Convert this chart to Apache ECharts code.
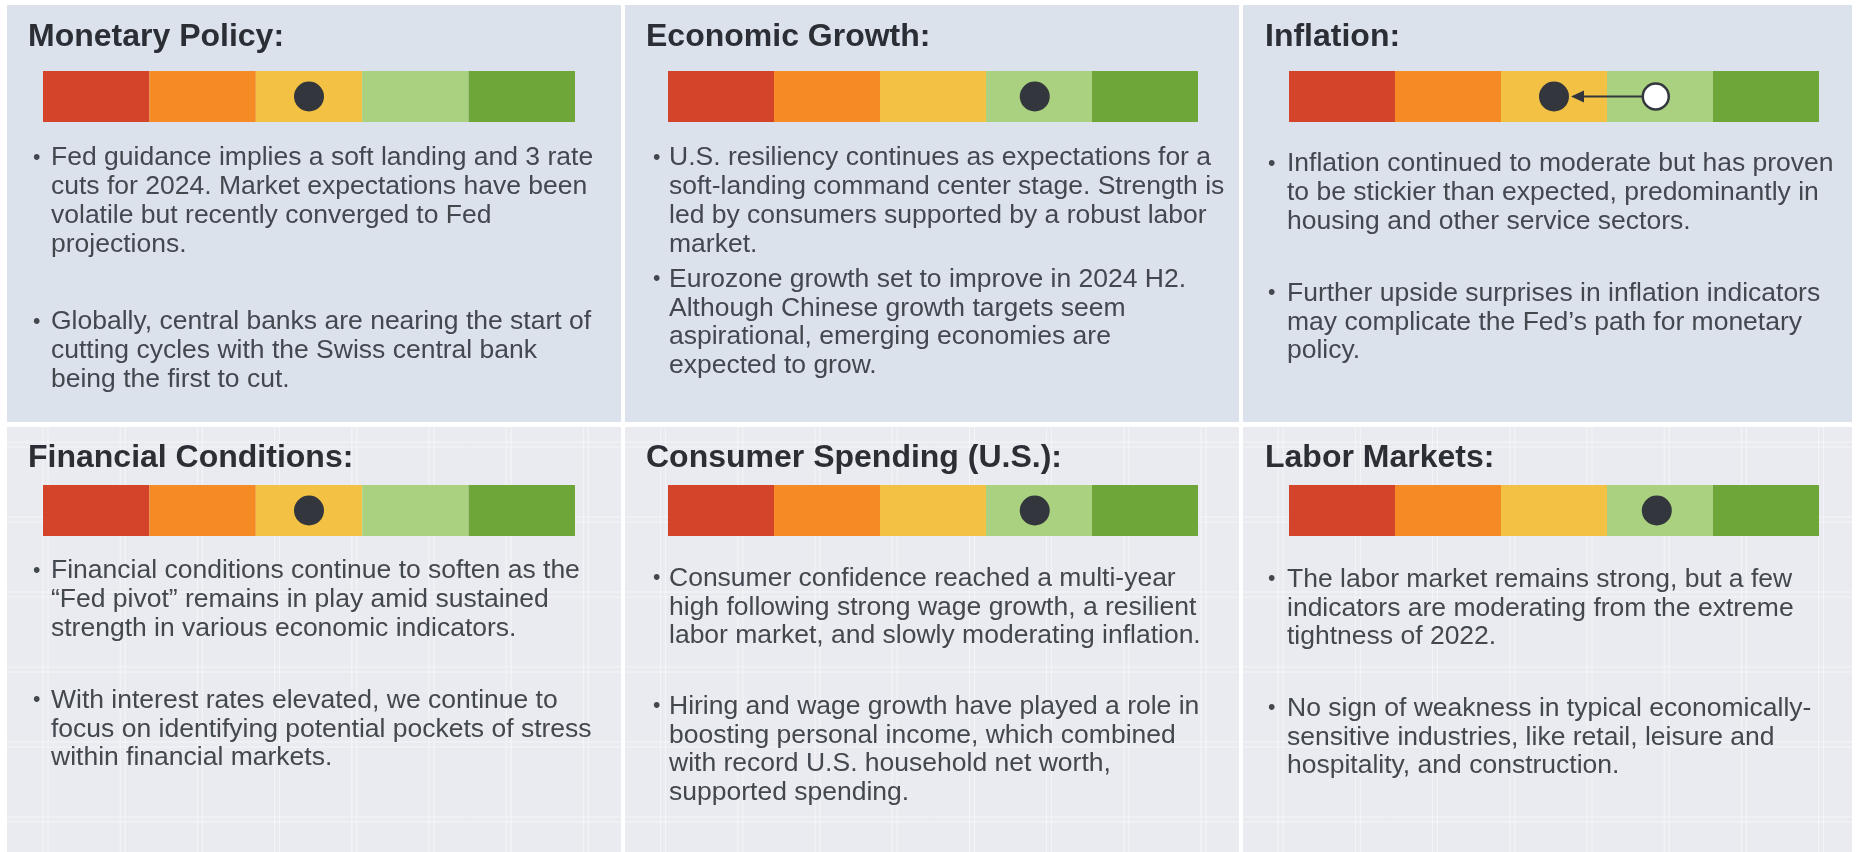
<!DOCTYPE html>
<html><head><meta charset="utf-8">
<script src="https://cdn.jsdelivr.net/npm/echarts@6/dist/echarts.min.js"></script>
<style>html,body{margin:0;padding:0;background:#ffffff}#c{width:1856px;height:852px}</style>
</head><body><div id="c"></div>
<script>
// ---------- DATA ----------
const panelTitles = ['Monetary Policy:', 'Economic Growth:', 'Inflation:', 'Financial Conditions:', 'Consumer Spending (U.S.):', 'Labor Markets:'];
const currentScore = [2.5, 3.46, 2.5, 2.5, 3.46, 3.47];
const previousScore = [null, null, 3.46, null, null, null];
const bandStarts = [0, 1, 2, 3, 4];
const bandEnds = [1, 2, 3, 4, 5];
const bulletsMonetary = [
  ['Fed guidance implies a soft landing and 3 rate', 'cuts for 2024. Market expectations have been', 'volatile but recently converged to Fed', 'projections.'],
  ['Globally, central banks are nearing the start of', 'cutting cycles with the Swiss central bank', 'being the first to cut.']
];
const bulletsGrowth = [
  ['U.S. resiliency continues as expectations for a', 'soft-landing command center stage. Strength is', 'led by consumers supported by a robust labor', 'market.'],
  ['Eurozone growth set to improve in 2024 H2.', 'Although Chinese growth targets seem', 'aspirational, emerging economies are', 'expected to grow.']
];
const bulletsInflation = [
  ['Inflation continued to moderate but has proven', 'to be stickier than expected, predominantly in', 'housing and other service sectors.'],
  ['Further upside surprises in inflation indicators', 'may complicate the Fed\u2019s path for monetary', 'policy.']
];
const bulletsFinancial = [
  ['Financial conditions continue to soften as the', '\u201CFed pivot\u201D remains in play amid sustained', 'strength in various economic indicators.'],
  ['With interest rates elevated, we continue to', 'focus on identifying potential pockets of stress', 'within financial markets.']
];
const bulletsConsumer = [
  ['Consumer confidence reached a multi-year', 'high following strong wage growth, a resilient', 'labor market, and slowly moderating inflation.'],
  ['Hiring and wage growth have played a role in', 'boosting personal income, which combined', 'with record U.S. household net worth,', 'supported spending.']
];
const bulletsLabor = [
  ['The labor market remains strong, but a few', 'indicators are moderating from the extreme', 'tightness of 2022.'],
  ['No sign of weakness in typical economically-', 'sensitive industries, like retail, leisure and', 'hospitality, and construction.']
];
const panelBullets = [bulletsMonetary, bulletsGrowth, bulletsInflation, bulletsFinancial, bulletsConsumer, bulletsLabor];

// ---------- STYLE / LAYOUT ----------
const bandColors = ['#d4442a', '#f68a25', '#f3c143', '#a9d17f', '#6fa639'];
const dotColor = '#33373d';
const titleColor = '#2b2e34';
const textColor = '#43474e';
const FONT = '"Liberation Sans", Arial, Helvetica, sans-serif';
const TITLE_SIZE = 32, TEXT_SIZE = 26.5, LH = 28.8;
const cols = [
  {x0: 7, x1: 621, title: 28, bullet: 33, text: 51, gx: 43, gw: 532},
  {x0: 625, x1: 1239, title: 646, bullet: 653, text: 669, gx: 668, gw: 530},
  {x0: 1243, x1: 1852, title: 1265, bullet: 1268, text: 1287, gx: 1289, gw: 530}
];
const rows = [
  {y0: 5, y1: 422, titleY: 37.5, gy: 71, gh: 51},
  {y0: 427, y1: 852, titleY: 458.5, gy: 485, gh: 51}
];
// first-line centre of each bullet, per panel
const bulletY = [[158, 322], [158, 279.5], [164, 293.5], [571, 700.5], [578.5, 706.5], [579.5, 708.5]];

// ---------- BUILD ----------
const grids = [], xAxes = [], yAxes = [], series = [], graphics = [];

// panel backgrounds
cols.forEach((c, ci) => rows.forEach((r, ri) => {
  graphics.push({type: 'rect', z: -10, silent: true,
    shape: {x: c.x0, y: r.y0, width: c.x1 - c.x0, height: r.y1 - r.y0},
    style: {fill: ri === 0 ? '#dce2ec' : '#e9ebf0'}});
}));
// faint plaid texture in bottom row
for (let x = 43; x < 1852; x += 77.2) {
  [0, 5].forEach(d => graphics.push({type: 'line', z: -9, silent: true,
    shape: {x1: x + d, y1: 427, x2: x + d, y2: 852}, style: {stroke: '#ffffff', lineWidth: 1, opacity: 0.5}}));
}
for (let y = 442; y < 852; y += 75) {
  [0, 5].forEach(d => graphics.push({type: 'line', z: -9, silent: true,
    shape: {x1: 7, y1: y + d, x2: 1852, y2: y + d}, style: {stroke: '#ffffff', lineWidth: 1, opacity: 0.5}}));
}
// re-draw separators over texture
cols.slice(0, 2).forEach(c => graphics.push({type: 'rect', z: -8, silent: true,
  shape: {x: c.x1, y: 427, width: 4, height: 425}, style: {fill: '#ffffff'}}));

panelTitles.forEach((title, i) => {
  const c = cols[i % 3], r = rows[Math.floor(i / 3)];
  grids.push({left: c.gx, top: r.gy, width: c.gw, height: r.gh, containLabel: false});
  xAxes.push({gridIndex: i, type: 'value', min: 0, max: 5, show: false});
  yAxes.push({gridIndex: i, type: 'category', data: ['score'], show: false});

  // colour bands
  series.push({
    type: 'custom', xAxisIndex: i, yAxisIndex: i, silent: true, z: 1,
    data: bandStarts.map((s, k) => [s, bandEnds[k], 0, k]),
    encode: {x: [0, 1], y: 2},
    renderItem: (params, api) => {
      const a = api.coord([api.value(0), 0]);
      const b = api.coord([api.value(1), 0]);
      const h = api.size([0, 1])[1];
      return {type: 'rect', shape: {x: a[0], y: a[1] - h / 2, width: b[0] - a[0], height: h},
        style: {fill: bandColors[api.value(3)]}};
    }
  });

  // trend arrow from previous to current
  if (previousScore[i] !== null) {
    series.push({
      type: 'custom', xAxisIndex: i, yAxisIndex: i, silent: true, z: 3,
      data: [[previousScore[i], currentScore[i], 0]],
      encode: {x: [0, 1], y: 2},
      renderItem: (params, api) => {
        const p = api.coord([api.value(0), 0]);
        const q = api.coord([api.value(1), 0]);
        const dir = q[0] < p[0] ? -1 : 1;
        const rDot = 15, rOpen = 13;
        const tipX = q[0] - dir * (rDot + 2);
        const baseX = tipX - dir * 13;
        return {type: 'group', children: [
          {type: 'line', shape: {x1: p[0] + dir * rOpen, y1: p[1], x2: baseX, y2: q[1]},
            style: {stroke: dotColor, lineWidth: 1.8}},
          {type: 'polygon', shape: {points: [[tipX, q[1]], [baseX, q[1] - 6], [baseX, q[1] + 6]]},
            style: {fill: dotColor}},
          {type: 'circle', shape: {cx: p[0], cy: p[1], r: rOpen},
            style: {fill: '#ffffff', stroke: dotColor, lineWidth: 2.5}}
        ]};
      }
    });
  }

  // current reading
  series.push({
    type: 'scatter', xAxisIndex: i, yAxisIndex: i, silent: true, z: 4,
    data: [[currentScore[i], 0]], symbol: 'circle', symbolSize: 30,
    itemStyle: {color: dotColor, opacity: 1}
  });

  // title
  graphics.push({type: 'text', z: 5, silent: true,
    style: {text: title, x: c.title, y: r.titleY, font: 'bold ' + TITLE_SIZE + 'px ' + FONT,
      fill: titleColor, textAlign: 'left', textVerticalAlign: 'middle', verticalAlign: 'middle'}});

  // bullets
  panelBullets[i].forEach((lines, b) => {
    const y = bulletY[i][b];
    graphics.push({type: 'text', z: 5, silent: true,
      style: {text: '\u2022', x: c.bullet, y: y, font: TEXT_SIZE * 0.8 + 'px ' + FONT, fill: textColor,
        textAlign: 'left', textVerticalAlign: 'middle', verticalAlign: 'middle'}});
    graphics.push({type: 'text', z: 5, silent: true,
      style: {text: lines.join('\n'), x: c.text, y: y - LH / 2, font: TEXT_SIZE + 'px ' + FONT,
        lineHeight: LH, fill: textColor, textAlign: 'left', textVerticalAlign: 'top', verticalAlign: 'top'}});
  });
});

const chart = echarts.init(document.getElementById('c'), null, {renderer: 'canvas'});
chart.setOption({
  animation: false,
  backgroundColor: '#ffffff',
  grid: grids, xAxis: xAxes, yAxis: yAxes, series: series,
  graphic: {elements: graphics}
});
</script></body></html>
